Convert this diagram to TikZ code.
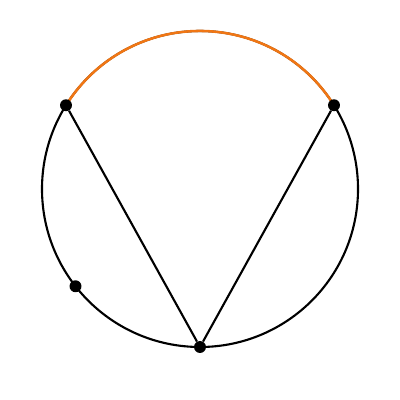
\documentclass[tikz,border=0pt]{standalone}
\usepackage{tikz}

\definecolor{arcorange}{RGB}{240,118,20}

\begin{document}
\begin{tikzpicture}[x=0.025cm, y=0.025cm]
        \useasboundingbox (0, 0) rectangle (400, 400);
        \coordinate (c) at (200, 211);
        \draw[line width=1.5pt] (c) circle (158);
        \draw[line width=1.8pt, arcorange] ([shift={(32:158)}] c) arc (32:148:158);

        \node[circle, inner sep=0pt, minimum size=8.5pt, fill] (a) at ([shift={(148:158)}] c) {};
        \node[circle, inner sep=0pt, minimum size=8.5pt, fill] (b) at ([shift={(32:158)}] c) {};
        \node[circle, inner sep=0pt, minimum size=8.5pt, fill] (d) at ([shift={(270:158)}] c) {};
        \node[circle, inner sep=0pt, minimum size=8.5pt, fill] (e) at ([shift={(218:158)}] c) {};

        \draw[line width=1.5pt] (a) -- (d)
              (b) -- (d);
    \end{tikzpicture}
\end{document}
